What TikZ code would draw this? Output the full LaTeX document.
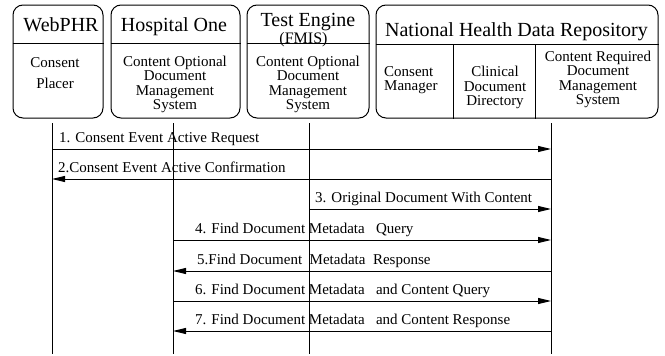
\documentclass[tikz,border=0pt]{standalone}
\usepackage{fontspec}
\setmainfont{Liberation Serif}
\usetikzlibrary{arrows.meta}
\begin{document}
\begin{tikzpicture}[x=1pt,y=-1pt,
  boxst/.style={draw, line width=1pt, rounded corners=10pt, inner sep=0pt},
  hdr/.style={font=\fontsize{20}{24}\selectfont, anchor=base, inner sep=0pt},
  body/.style={font=\fontsize{15}{14.3}\selectfont, align=center, inner sep=0pt},
  msg/.style={font=\fontsize{15}{18}\selectfont, anchor=base west, inner sep=0pt},
  sep/.style={line width=1pt},
  life/.style={line width=1pt},
  arr/.style={line width=1pt, -{Triangle[length=13pt,width=6pt]}}]
\useasboundingbox (0,0) rectangle (665,356);

% boxes
\node[boxst, minimum width=90pt, minimum height=113pt] (web) at (58,61.5) {};
\node[boxst, minimum width=129pt, minimum height=113pt] (hos) at (175.5,61.5) {};
\node[boxst, minimum width=122pt, minimum height=113pt] (te) at (308,61.5) {};
\node[boxst, minimum width=282pt, minimum height=113pt] (nh) at (517,61.5) {};

% header texts
\node[hdr] (webT) at (61,31) {WebPHR};
\node[hdr] (hosT) at (174,31) {Hospital One};
\node[hdr] (teT) at (308,26.5) {Test Engine};
\node[hdr, font=\fontsize{16}{18}\selectfont] (fmis) at (303.5,43.5) {(FMIS)};
\node[hdr] (nhT) at (516.5,36) {National Health Data Repository};

% dividers
\coordinate (d) at (0,43);
\coordinate (dn) at (0,44);
\draw[sep] (web.west |- d) -- (web.east |- d);
\draw[sep] (hos.west |- d) -- (hos.east |- d);
\draw[sep] (te.west |- d) -- (te.east |- d);
\draw[sep] (nh.west |- dn) -- (nh.east |- dn);
\coordinate (v1) at (453,44);
\coordinate (v2) at (535,44);
\draw[sep] (v1) -- (v1 |- nh.south);
\draw[sep] (v2) -- (v2 |- nh.south);

% body texts
\node[body, font=\fontsize{15}{21}\selectfont] (webB) at (55,73) {Consent\\Placer};
\node[body] (hosB) at (175,84.5) {Content Optional\\Document\\Management\\System};
\node[body] (teB) at (308,84.5) {Content Optional\\Document\\Management\\System};
\node[body, align=left, anchor=west] (cm) at (384,80.5) {Consent\\Manager};
\node[body] (cdd) at (495,87.5) {Clinical\\Document\\Directory};
\node[body, font=\fontsize{15}{14.5}\selectfont] (crd) at (598,79.5) {Content Required\\Document\\Management\\System};

% lifelines
\coordinate (L1) at (52,123);
\coordinate (L2) at (173,123);
\coordinate (L3) at (309,123);
\coordinate (L4) at (551,123);
\coordinate (bot) at (0,354);
\draw[life] (L1) -- (L1 |- bot);
\draw[life] (L2) -- (L2 |- bot);
\draw[life] (L3) -- (L3 |- bot);
\draw[life] (L4) -- (L4 |- bot);

% messages
\coordinate (y1) at (0,149);
\coordinate (y2) at (0,179);
\coordinate (y3) at (0,209);
\coordinate (y4) at (0,240);
\coordinate (y5) at (0,271);
\coordinate (y6) at (0,301);
\coordinate (y7) at (0,331);
\draw[arr] (L1 |- y1) -- (L4 |- y1);
\draw[arr] (L4 |- y2) -- (L1 |- y2);
\draw[arr] (L3 |- y3) -- (L4 |- y3);
\draw[arr] (L2 |- y4) -- (L4 |- y4);
\draw[arr] (L4 |- y5) -- (L2 |- y5);
\draw[arr] (L2 |- y6) -- (L4 |- y6);
\draw[arr] (L4 |- y7) -- (L2 |- y7);

\node[msg] (m1) at (59,142) {1. Consent Event Active Request};
\node[msg] (m2) at (58,172) {2.Consent Event Active Confirmation};
\node[msg] (m3) at (315,202) {3. Original Document With Content};
\node[msg] (m4) at (195,233) {4. Find Document Metadata\ \ \ Query};
\node[msg] (m5) at (197,264) {5.Find Document\ \ Metadata\ \ Response};
\node[msg] (m6) at (195,294) {6. Find Document Metadata\ \ \ and Content Query};
\node[msg] (m7) at (195,324) {7. Find Document Metadata\ \ \ and Content Response};
\end{tikzpicture}
\end{document}
